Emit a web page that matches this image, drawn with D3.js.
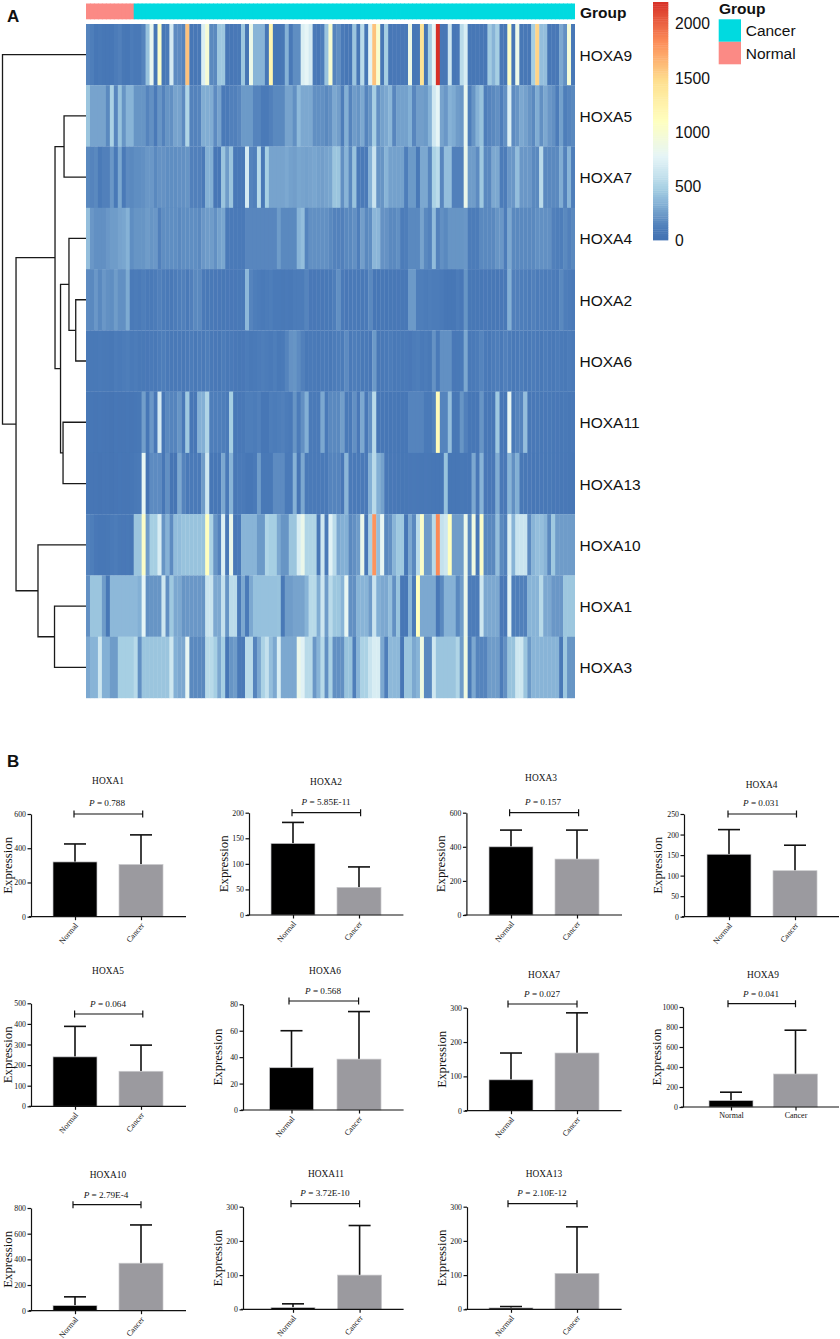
<!DOCTYPE html>
<html><head><meta charset="utf-8">
<script src="https://cdn.jsdelivr.net/npm/d3@7/dist/d3.min.js"></script>
<style>html,body{margin:0;padding:0;background:#fff}svg{display:block}</style>
</head><body><svg id="c" width="840" height="1339"></svg>
<script>
// ---------- Panel A data ----------
const rowNames=["HOXA9","HOXA5","HOXA7","HOXA4","HOXA2","HOXA6","HOXA11","HOXA13","HOXA10","HOXA1","HOXA3"];
const HOXA9=[150,120,60,90,60,60,60,110,130,70,
60,110,90,90,150,420,820,60,1040,60,
100,680,180,180,150,1600,60,60,70,720,
980,170,170,440,440,60,60,80,90,440,
40,860,350,350,350,60,1220,60,60,70,
340,90,190,190,720,780,680,100,60,120,
430,1000,150,190,100,60,60,430,70,560,
60,760,1600,1020,70,480,60,80,80,80,
90,880,60,70,1430,50,480,780,2200,70,
70,640,60,80,560,700,60,60,70,60,
60,460,350,480,70,60,1060,60,860,70,
70,60,480,1520,400,400,60,80,70,300,
200,960,70];
const HOXA5=[430,280,280,280,280,170,500,160,420,220,
350,350,220,220,220,150,200,100,220,140,
220,200,280,280,180,520,140,140,150,320,
320,320,180,280,100,100,130,130,160,240,
240,240,150,150,100,100,130,170,170,170,
280,280,200,380,300,300,300,200,200,200,
170,200,300,260,120,330,150,250,220,300,
150,220,480,200,270,300,360,160,270,270,
270,330,160,260,260,240,340,660,780,280,
230,340,310,250,230,820,120,220,340,420,
120,150,170,200,120,200,720,180,220,300,
270,220,170,320,200,300,230,200,110,270,
120,150,170];
const HOXA7=[170,150,170,100,130,130,230,90,300,100,
180,170,190,190,200,230,230,170,210,210,
190,190,190,200,200,220,130,130,130,100,
330,330,60,60,430,250,430,90,90,90,
680,150,130,550,90,480,280,280,280,280,
300,270,260,290,280,270,280,290,270,260,
280,290,430,430,200,350,170,420,100,100,
100,340,620,220,220,350,270,270,270,270,
120,240,240,90,300,300,160,500,560,160,
400,400,130,130,130,850,250,250,180,450,
170,170,300,300,110,110,230,230,400,230,
230,230,170,170,560,170,170,170,170,320,
140,350,120];
const HOXA4=[400,230,200,200,200,230,250,250,280,290,
340,190,220,220,220,250,220,230,130,190,
190,190,190,170,190,190,190,190,170,230,
250,250,200,270,290,100,100,100,100,100,
160,160,160,160,160,160,160,160,250,170,
170,170,170,350,400,150,200,200,200,200,
200,170,140,140,130,170,170,200,120,260,
170,190,360,360,210,210,170,170,200,110,
120,170,170,170,280,170,140,390,140,200,
170,220,220,220,220,230,110,110,110,170,
170,170,170,220,230,110,300,170,170,170,
170,170,170,200,200,200,200,130,120,120,
170,130,170];
const HOXA2=[180,170,230,170,230,200,190,250,200,200,
310,100,110,100,120,100,100,110,130,110,
100,90,110,120,130,100,130,170,170,100,
90,90,80,80,70,80,80,80,90,90,
370,150,120,110,100,110,120,100,100,90,
100,90,110,110,110,150,80,80,90,80,
90,90,120,200,100,80,90,100,90,90,
100,170,60,60,70,60,70,70,80,70,
70,240,240,120,120,110,120,110,110,100,
60,60,60,110,80,220,70,70,70,70,
80,70,70,70,80,90,330,130,130,120,
120,110,130,110,120,110,120,110,100,170,
120,110,100];
const HOXA6=[100,90,90,100,90,90,70,110,100,110,
120,100,110,90,90,80,100,90,110,120,
100,90,90,100,90,100,110,90,110,100,
120,90,80,70,110,90,100,80,70,80,
110,90,100,110,120,110,100,120,90,100,
150,210,220,180,130,90,100,100,90,100,
100,90,110,120,110,180,100,120,110,90,
100,80,240,70,90,100,110,90,100,90,
100,80,110,120,100,110,90,210,100,200,
200,200,80,90,100,300,90,100,110,150,
100,90,110,120,100,130,110,90,100,110,
90,100,110,100,90,110,100,90,110,100,
90,110,100];
const HOXA11=[70,60,50,60,50,50,40,60,50,50,
60,50,60,70,260,60,230,80,680,60,
170,150,150,220,100,450,60,60,330,330,
520,120,120,120,120,100,480,70,80,90,
120,120,110,130,60,60,120,110,120,130,
110,100,220,110,200,330,100,100,100,300,
100,170,170,170,260,100,100,200,80,300,
80,200,550,60,60,60,60,70,60,60,
60,150,150,150,150,100,100,140,1150,150,
150,400,70,70,220,130,60,60,60,220,
70,70,70,450,60,60,800,100,150,150,
400,70,80,90,70,80,90,70,80,70,
90,70,80];
const HOXA13=[60,50,50,40,50,50,40,50,60,50,
50,60,90,100,800,40,180,180,180,60,
200,40,40,300,150,100,100,100,100,250,
650,60,60,60,300,100,350,70,100,100,
60,60,100,250,90,90,90,180,180,180,
100,100,340,50,300,100,100,100,100,100,
100,150,150,150,80,360,100,100,100,100,
100,330,550,330,270,80,70,80,70,60,
70,80,90,80,70,80,70,60,60,60,
420,60,60,60,70,60,60,300,80,350,
80,80,80,320,80,80,350,200,330,70,
70,80,60,70,80,70,90,70,80,70,
80,70,60];
const HOXA10=[140,120,80,60,60,70,100,110,90,80,
90,60,430,430,1050,250,480,480,700,220,
340,180,390,390,420,420,420,420,420,420,
1100,500,220,140,720,90,850,70,100,350,
350,350,350,240,240,520,480,480,300,220,
220,430,430,700,850,520,520,520,80,650,
100,750,560,300,330,330,170,200,250,850,
80,500,1800,400,800,170,200,350,450,450,
60,300,170,550,1050,250,250,550,1850,600,
650,1100,250,250,250,850,170,900,60,1050,
170,170,170,400,170,130,700,350,620,620,
620,180,350,400,400,350,170,450,250,250,
250,250,250];
const HOXA1=[200,430,430,430,250,70,370,370,370,370,
370,370,370,330,780,200,220,220,220,650,
200,450,300,300,220,230,230,230,230,220,
620,620,300,300,600,220,560,560,100,300,
100,300,410,410,410,410,410,410,420,90,
250,250,280,280,280,350,550,550,320,640,
250,560,440,440,350,800,200,200,350,350,
350,250,620,330,300,300,400,200,420,60,
60,350,100,1100,300,300,300,300,80,170,
340,340,340,170,250,850,110,110,110,650,
300,300,300,300,80,80,750,120,120,130,
130,350,350,350,550,300,300,230,230,230,
440,440,440];
const HOXA3=[300,350,350,650,330,330,250,250,480,480,
480,480,550,200,430,430,430,430,430,430,
430,650,330,300,300,800,170,170,170,170,
550,550,480,300,480,60,220,250,100,100,
560,560,150,300,500,600,400,300,700,300,
300,300,300,850,750,550,550,230,350,550,
200,500,200,200,200,420,420,120,350,500,
500,620,700,700,300,120,370,370,370,60,
430,430,300,350,900,170,170,650,430,430,
430,430,430,520,250,900,100,300,150,150,
150,250,250,250,110,200,420,420,650,650,
430,240,350,350,350,350,350,350,350,90,
440,220,220];
const heatRows=[HOXA9,HOXA5,HOXA7,HOXA4,HOXA2,HOXA6,HOXA11,HOXA13,HOXA10,HOXA1,HOXA3];
const normalCount=12;
const colorbarTicks=[0,500,1000,1500,2000];
const colorMax=2200;
const colorStops=[0,100,150,250,340,480,620,780,1100,1466,1833,2200];
const colorRamp=["#4372b2","#4a7ab8","#5584bd","#6f9cc9","#86b2d6","#a6cfe3","#c9e4ef","#e6f5f6","#ffffbf","#fee090","#fc8d59","#d73027"];
const legendGroups=["Cancer","Normal"];
// merge heights of the row dendrogram (0 = leaves, 1000 = root)
const dendro={h:1000,c:["HOXA9",{h:838,c:[
  {h:371,c:[{h:263,c:["HOXA5","HOXA7"]},
            {h:305,c:[{h:204,c:["HOXA4",{h:123,c:["HOXA2","HOXA6"]}]},
                      {h:275,c:["HOXA11","HOXA13"]}]}]},
  {h:575,c:["HOXA10",{h:377,c:["HOXA1","HOXA3"]}]}]}]};

// ---------- Panel B data ----------
const barGenes=["HOXA1","HOXA2","HOXA3","HOXA4","HOXA5","HOXA6","HOXA7","HOXA9","HOXA10","HOXA11","HOXA13"];
const normalMean=[320,140,400,152,240,32,90,65,40,5,4];
const cancerMean=[305,54,328,112,170,38.5,168,330,370,100,105];
const normalUpper=[425,181,498,212,388,60,168,148,108,16,8];
const cancerUpper=[478,94,498,174,297,74.5,285,768,668,245,241];
const yTop=[600,200,600,250,500,80,300,1000,800,300,300];
const yStep=[200,50,200,50,100,20,100,200,200,100,100];
const pLabels=["0.788","5.85E-11","0.157","0.031","0.064","0.568","0.027","0.041","2.79E-4","3.72E-10","2.10E-12"];
const barGroups=["Normal","Cancer"];
// layout of each small chart: axis x, plot top, plot bottom, axis end, group centres, bracket, text anchors
const panels=[
 {ax:31,top:814,bot:916.7,end:186,c:[75,141],br:[74,142.7],bry:814,px:107,py:803,tx:108,ty:781,rot:1},
 {ax:249,top:812.7,bot:915,end:403.4,c:[293,359],br:[292,360.6],bry:812.7,px:326,py:802,tx:326,ty:782,rot:1},
 {ax:466.4,top:812.7,bot:915,end:622,c:[511,577],br:[509.6,578.6],bry:812.7,px:543,py:802,tx:541,ty:778,rot:1},
 {ax:684,top:814,bot:916.7,end:839,c:[729,795],br:[728,796.5],bry:814,px:761,py:803,tx:761.6,ty:785,rot:1},
 {ax:31,top:1003.3,bot:1106.3,end:186,c:[75,141],br:[74.6,142.8],bry:1014,px:108,py:1004,tx:108,ty:971,rot:1},
 {ax:243,top:1004.3,bot:1110,end:403.6,c:[291.5,359],br:[289,358.6],bry:1001,px:323,py:991,tx:325,ty:971,rot:1},
 {ax:467,top:1007.7,bot:1110.7,end:621.6,c:[511,577],br:[508,577],bry:1004,px:542,py:994,tx:544,ty:975,rot:1},
 {ax:683,top:1007,bot:1107,end:839,c:[731,795.5],br:[728,795.5],bry:1003.7,px:761,py:994,tx:763,ty:975,rot:0},
 {ax:31,top:1208,bot:1310.7,end:186,c:[75,141],br:[73,141],bry:1204.7,px:106,py:1194.7,tx:108,ty:1175,rot:1},
 {ax:243,top:1206.7,bot:1309.3,end:403.6,c:[293,359.6],br:[291,359.6],bry:1203.7,px:325,py:1193,tx:326,ty:1174,rot:1},
 {ax:467,top:1206.7,bot:1309.3,end:621.6,c:[511,577],br:[508,577],bry:1203.7,px:542,py:1193,tx:544,ty:1174,rot:1}
];

// ---------- Drawing ----------
const SANS='"Liberation Sans",Arial,sans-serif', SERIF='"Liberation Serif","Times New Roman",serif';
const svg=d3.select("#c");
const color=d3.scaleLinear().domain(colorStops).range(colorRamp)
  .interpolate(d3.interpolateRgb).clamp(true);
const groupColor=d3.scaleOrdinal(legendGroups,["#00dae0","#fb8a85"]);

const colIdx=d3.range(heatRows[0].length);
const xCol=d3.scaleBand(colIdx,[86,575]);
const yRow=d3.scaleBand(rowNames,[24,698]);

// group strip
svg.append("g").selectAll("rect").data(colIdx).join("rect")
  .attr("x",d=>xCol(d)).attr("y",3.5).attr("width",d=>d===colIdx.length-1?xCol.bandwidth():xCol.bandwidth()+.8).attr("height",15.8)
  .attr("fill",d=>groupColor(d<normalCount?"Normal":"Cancer"));
svg.append("text").text("Group").attr("x",580).attr("y",17.5)
  .attr("font-family",SANS).attr("font-weight","bold").attr("font-size",15.5).attr("fill","#111");

// heat cells
const cells=svg.append("g");
rowNames.forEach((name,r)=>{
  cells.append("g").selectAll("rect").data(heatRows[r]).join("rect")
    .attr("x",(d,i)=>xCol(i)).attr("y",yRow(name))
    .attr("width",(d,i)=>i===colIdx.length-1?xCol.bandwidth():xCol.bandwidth()+.3).attr("height",yRow.bandwidth()+.2)
    .attr("fill",d=>color(d));
  svg.append("text").text(name).attr("x",579.5).attr("y",yRow(name)+yRow.bandwidth()/2+6)
    .attr("font-family",SANS).attr("font-size",15.5).attr("fill","#111");
});

// dendrogram
const xH=d3.scaleLinear([0,1000],[86,2.5]);
const dg=svg.append("g").attr("fill","none").attr("stroke","#1a1a1a").attr("stroke-width",1.3);
function drawNode(n){
  if(typeof n==="string") return {y:yRow(n)+yRow.bandwidth()/2,x:xH(0)};
  const a=drawNode(n.c[0]), b=drawNode(n.c[1]), x=xH(n.h);
  dg.append("path").attr("d",`M${a.x},${a.y}H${x}V${b.y}H${b.x}`);
  return {x,y:(a.y+b.y)/2};
}
drawNode(dendro);

// colour bar
const yBar=d3.scaleLinear([0,colorMax],[240,2]);
svg.append("g").selectAll("rect").data(d3.range(0,colorMax,20)).join("rect")
  .attr("x",653).attr("width",15.3).attr("y",d=>yBar(d+20)).attr("height",d=>yBar(d)-yBar(d+20)+.4)
  .attr("fill",d=>color(d+10));
svg.append("g").selectAll("text").data(colorbarTicks).join("text").text(d=>d)
  .attr("x",675).attr("y",d=>yBar(d)+5.8)
  .attr("font-family",SANS).attr("font-size",15.7).attr("fill","#111");

// group legend
svg.append("text").text("Group").attr("x",719).attr("y",13.5)
  .attr("font-family",SANS).attr("font-weight","bold").attr("font-size",15.5).attr("fill","#111");
const yLeg=d3.scaleBand(legendGroups,[19.3,64.3]);
legendGroups.forEach(g=>{
  svg.append("rect").attr("x",718.7).attr("y",yLeg(g)).attr("width",22.3).attr("height",yLeg.bandwidth())
    .attr("fill",groupColor(g));
  svg.append("text").text(g).attr("x",745.7).attr("y",yLeg(g)+yLeg.bandwidth()/2+5.5)
    .attr("font-family",SANS).attr("font-size",15.5).attr("fill","#111");
});

// panel letters
[["A",7,22],["B",7,767]].forEach(([t,x,y])=>svg.append("text").text(t).attr("x",x).attr("y",y)
  .attr("font-family",SANS).attr("font-weight","bold").attr("font-size",17).attr("fill","#111"));

// bar panels
const barWidth=44, capWidth=22, barFill=["#000","#9b9a9f"];
barGenes.forEach((gene,i)=>{
  const p=panels[i];
  const g=svg.append("g");
  const y=d3.scaleLinear([0,yTop[i]],[p.bot,p.top]);
  const x=d3.scalePoint(barGroups,p.c);
  const means=[normalMean[i],cancerMean[i]], uppers=[normalUpper[i],cancerUpper[i]];
  barGroups.forEach((b,k)=>{
    const cx=x(b);
    g.append("line").attr("x1",cx).attr("x2",cx).attr("y1",y(means[k])).attr("y2",y(uppers[k]))
      .attr("stroke","#111").attr("stroke-width",1.6);
    g.append("line").attr("x1",cx-capWidth/2).attr("x2",cx+capWidth/2).attr("y1",y(uppers[k])).attr("y2",y(uppers[k]))
      .attr("stroke","#111").attr("stroke-width",1.6);
    g.append("rect").attr("x",cx-barWidth/2).attr("width",barWidth)
      .attr("y",y(means[k])).attr("height",y(0)-y(means[k]))
      .attr("fill",barFill[k]).attr("stroke","#c9c9cc").attr("stroke-width",.7);
  });
  // y axis
  const ya=g.append("g").attr("transform",`translate(${p.ax},0)`)
    .call(d3.axisLeft(y).tickValues(d3.range(0,yTop[i]+1,yStep[i])).tickFormat(d3.format("d")).tickSize(3.5).tickPadding(1.5).tickSizeOuter(0));
  ya.selectAll("text").attr("font-family",SERIF).attr("font-size",7.8).attr("fill","#111");
  ya.selectAll("line,path").attr("stroke","#111").attr("stroke-width",1.2);
  // x axis
  const xa=g.append("g").attr("transform",`translate(0,${p.bot})`)
    .call(d3.axisBottom(x).tickSize(3.5).tickSizeOuter(0).tickPadding(3));
  xa.select("path").attr("d",`M${p.ax-2},0H${p.end}`);
  xa.selectAll("line,path").attr("stroke","#111").attr("stroke-width",1.2);
  const xl=xa.selectAll("text").attr("font-family",SERIF).attr("font-size",8).attr("fill","#111");
  if(p.rot){ xl.attr("text-anchor","end").attr("dy",0).attr("y",0)
      .attr("transform","translate(3,9) rotate(-50)"); }
  else { xl.attr("y",5).attr("dy","0.71em"); }
  // labels
  g.append("text").text(gene).attr("x",p.tx).attr("y",p.ty+3).attr("text-anchor","middle")
    .attr("font-family",SERIF).attr("font-size",9.4).attr("fill","#111");
  const pt=g.append("text").attr("x",p.px).attr("y",p.py+3).attr("text-anchor","middle")
    .attr("font-family",SERIF).attr("font-size",9.2).attr("fill","#111");
  pt.append("tspan").attr("font-style","italic").text("P");
  pt.append("tspan").text(" = "+pLabels[i]);
  const labelOffset=p.ax<40?19:(p.ax>680?22.5:21.5);
  g.append("text").text("Expression")
    .attr("transform",`translate(${p.ax-labelOffset},${(p.top+p.bot)/2}) rotate(-90)`).attr("text-anchor","middle")
    .attr("font-family",SERIF).attr("font-size",12.8).attr("fill","#111");
  // bracket
  g.append("path").attr("fill","none").attr("stroke","#111").attr("stroke-width",1.2)
    .attr("d",`M${p.br[0]},${p.bry-3.5}V${p.bry+3.5}M${p.br[0]},${p.bry}H${p.br[1]}M${p.br[1]},${p.bry-3.5}V${p.bry+3.5}`);
});
</script></body></html>
